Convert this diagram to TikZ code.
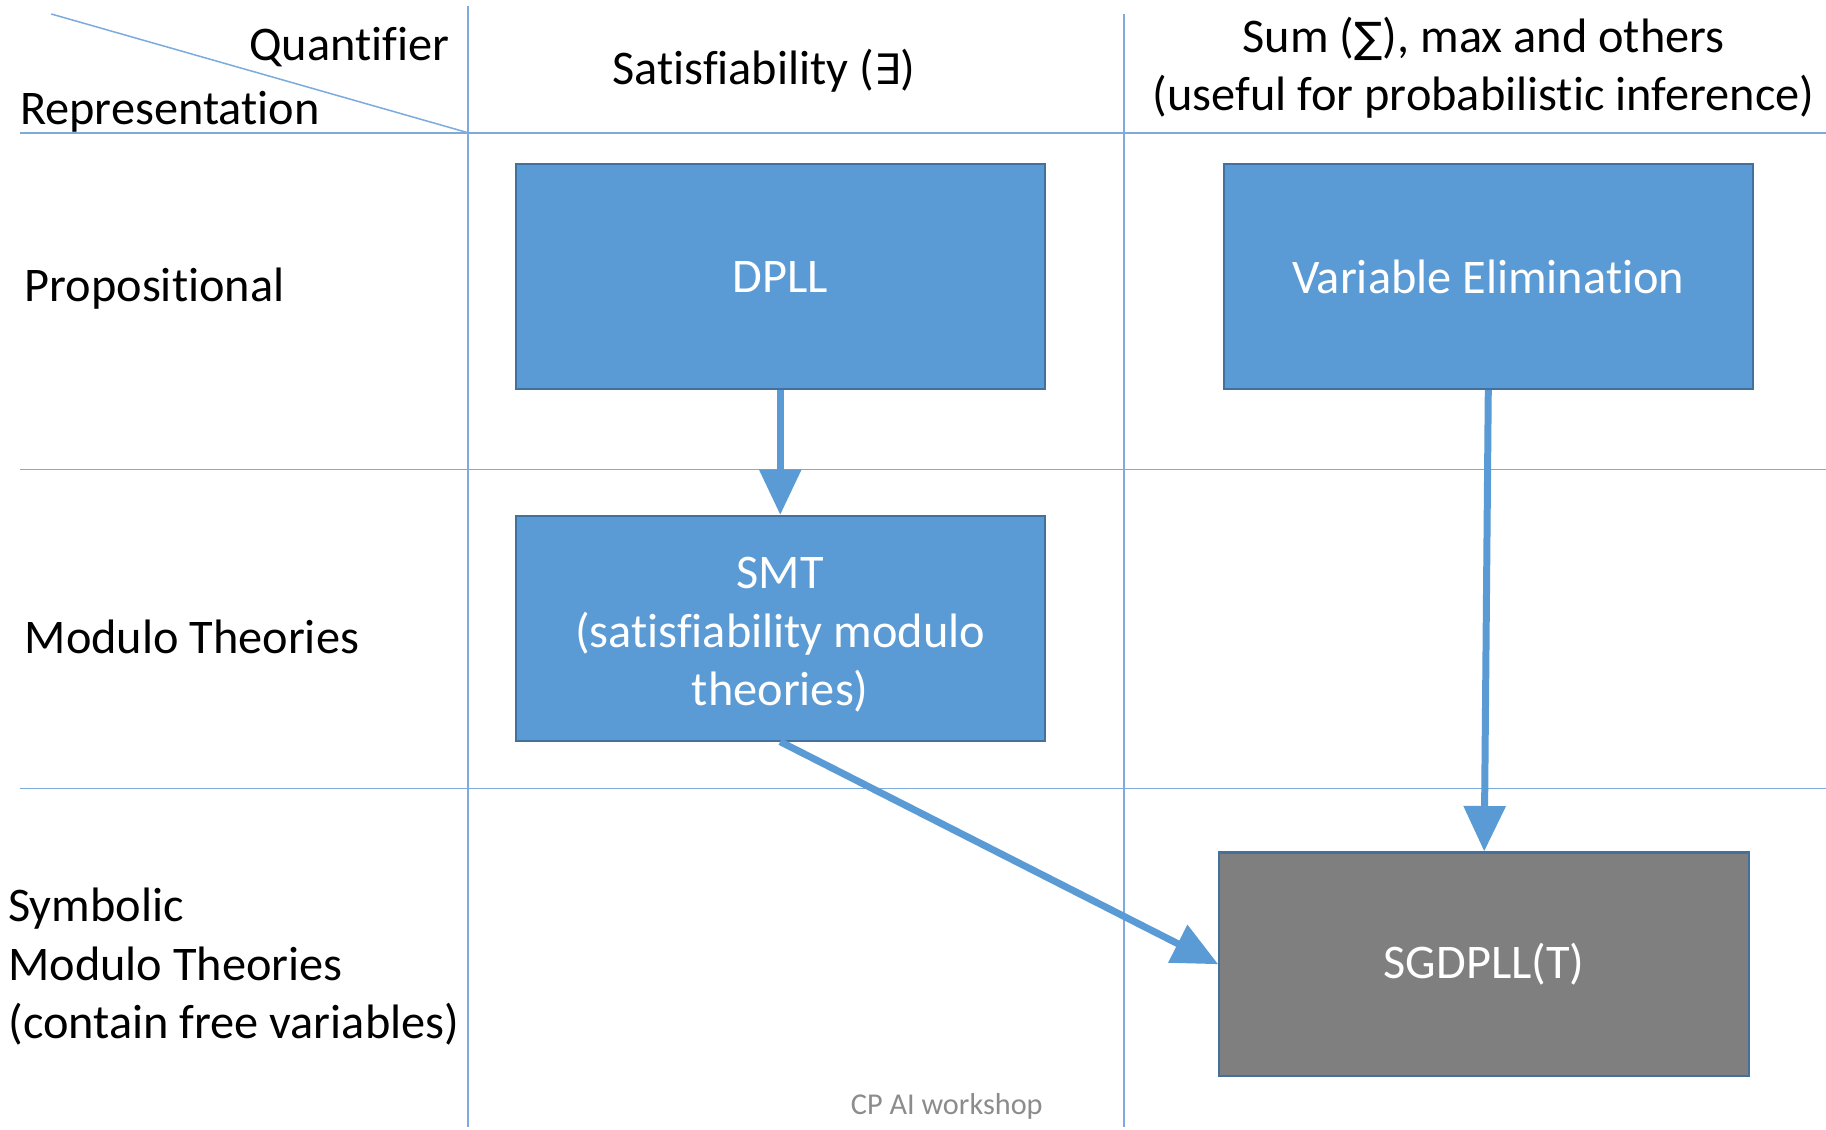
\documentclass[tikz,border=0pt]{standalone}
\usepackage{fontspec}
\setmainfont[Ligatures={NoCommon}]{Carlito}
\newfontfamily\symfont{DejaVu Sans}
\usetikzlibrary{arrows.meta}
\definecolor{gridblue}{RGB}{125,171,222}
\definecolor{boxblue}{RGB}{91,155,213}
\definecolor{boxedge}{RGB}{65,113,156}
\definecolor{boxgray}{RGB}{127,127,127}
\definecolor{footgray}{RGB}{140,140,140}
\tikzset{
  gridline/.style={draw=gridblue, line width=1.3pt},
  lbl/.style={inner sep=0pt, font=\fontsize{41.5}{50}\selectfont, text=black},
  stepbox/.style={draw=boxedge, line width=1.8pt, fill=boxblue, inner sep=0pt,
    text=white, font=\fontsize{41.5}{50}\selectfont, align=center},
  flow/.style={draw=boxblue, line width=6pt,
    -{Triangle[length=39pt, width=35pt]}, shorten >=0pt},
}
\begin{document}
\begin{tikzpicture}[x=1pt, y=-1pt]
\useasboundingbox (0,0) rectangle (1568,970);
\fill[white] (0,0) rectangle (1568,970);
% grid
\coordinate (dA) at (44,12);
\coordinate (dB) at (402,114);
\coordinate (h1a) at (17,114);  \coordinate (h1b) at (1568,114);
\coordinate (h2a) at (17,403);  \coordinate (h2b) at (1568,403);
\coordinate (h3a) at (17,677);  \coordinate (h3b) at (1568,677);
\coordinate (v1a) at (402,5);   \coordinate (v1b) at (402,968);
\coordinate (v2a) at (965,12);  \coordinate (v2b) at (965,968);
\draw[gridline] (dA) -- (dB);
\draw[gridline] (h1a) -- (h1b);
\draw[gridline] (h2a) -- (h2b);
\draw[gridline] (h3a) -- (h3b);
\draw[gridline] (v1a) -- (v1b);
\draw[gridline] (v2a) -- (v2b);
% header labels
\node[lbl, anchor=east] (quant) at (386,40) {Quantifier};
\node[lbl, anchor=west] (repr) at (17,96) {Representation};
\node[lbl] (sat) at (656,61) {Satisfiability ({\symfont\fontsize{36}{40}\selectfont ∃})};
\node[lbl, align=center] (sum) at (1274,58) {Sum ({\symfont\fontsize{36}{40}\selectfont ∑}), max and others\\(useful for probabilistic inference)};
% row labels
\node[lbl, anchor=west] (prop) at (21,248) {Propositional};
\node[lbl, anchor=west] (mod) at (21,547) {Modulo Theories};
\node[lbl, anchor=west, align=left] (sym) at (7,830) {Symbolic\\Modulo Theories\\(contain free variables)};
% boxes
\node[stepbox, minimum width=454pt, minimum height=193pt] (dpll) at (670,237.5) {DPLL};
\node[stepbox, minimum width=454pt, minimum height=193pt] (ve) at (1278,237.5) {Variable Elimination};
\node[stepbox, minimum width=454pt, minimum height=193pt] (smt) at (670,539.5) {\rule{0pt}{0pt}\\[-12pt]SMT\\(satisfiability modulo\\theories)};
\node[stepbox, fill=boxgray, minimum width=455pt, minimum height=192pt] (sg) at (1274.5,828) {SGDPLL(T)};
% arrows
\draw[flow] (dpll.south) -- (smt.north);
\draw[flow] (ve.south) -- (sg.north);
\draw[flow] (smt.south) -- (sg.west);
% footer
\node[inner sep=0pt, font=\fontsize{26}{30}\selectfont, text=footgray] (foot) at (813,950) {CP AI workshop};
\end{tikzpicture}
\end{document}
